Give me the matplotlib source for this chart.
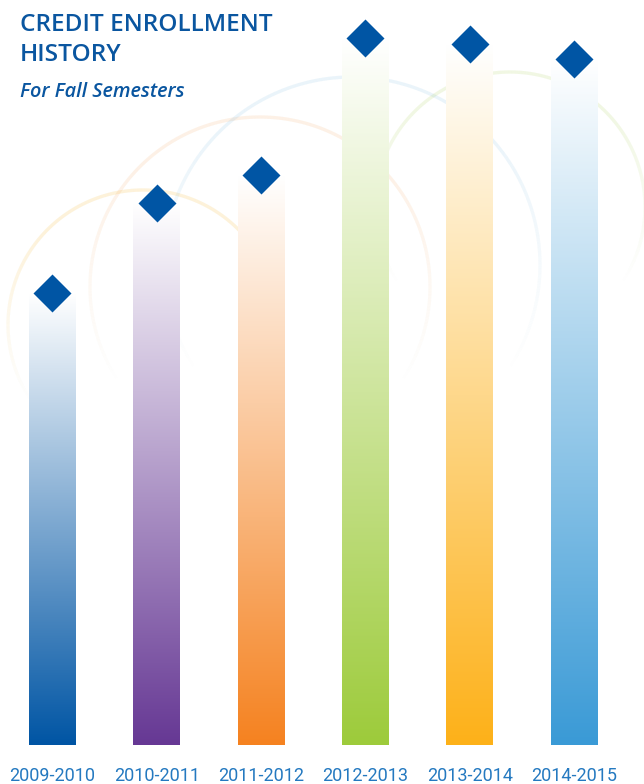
import numpy as np
import matplotlib
matplotlib.use("Agg")
import matplotlib.pyplot as plt
from matplotlib.colors import LinearSegmentedColormap, to_rgb, to_rgba
from matplotlib.collections import LineCollection

# ---- data (relative enrollment) ----
years = ["2009-2010", "2010-2011", "2011-2012", "2012-2013", "2013-2014", "2014-2015"]
values = [452, 542, 570, 707, 701, 686]
bar_colors = ["#0055A4", "#663894", "#F58220", "#9DCB3B", "#FDB119", "#3A9AD6"]

title_color = "#0A56A0"
label_color = "#2479C0"
diamond_color = "#0055A4"

fig = plt.figure(figsize=(6.44, 7.84), dpi=100)

# background decorative circles (pixel space), fading toward the bottom
bg = fig.add_axes([0, 0, 1, 1])
bg.set_xlim(0, 644)
bg.set_ylim(784, 0)
bg.axis("off")
bg.set_zorder(0)
circles = [((143, 325), 135, "#FDB119", 0.16),
           ((260, 287), 170, "#F58220", 0.11),
           ((352, 265), 188, "#3A9AD6", 0.10),
           ((510, 207), 135, "#9DCB3B", 0.14)]
t = np.linspace(0, 2 * np.pi, 721)
for (cx, cy), r, col, a in circles:
    px = cx + r * np.cos(t)
    py = cy - r * np.sin(t)
    pts = np.column_stack([px, py]).reshape(-1, 1, 2)
    segs = np.concatenate([pts[:-1], pts[1:]], axis=1)
    s = np.sin((t[:-1] + t[1:]) / 2)
    f = np.clip(0.45 + 0.8 * s, 0, 1)
    base = np.array(to_rgba(col))
    cols = np.tile(base, (len(segs), 1))
    cols[:, 3] = a * f
    bg.add_collection(LineCollection(segs, colors=cols, linewidths=2.4))

ax = fig.add_axes([0, 0, 1, 1])
ax.patch.set_alpha(0)
ax.axis("off")
ax.set_zorder(1)

x = np.arange(len(years))
width = 0.45
grad = np.linspace(0, 1, 256).reshape(-1, 1)
for xi, v, c in zip(x, values, bar_colors):
    cmap = LinearSegmentedColormap.from_list("g", [to_rgb(c), (1, 1, 1)])
    ax.imshow(grad, cmap=cmap, extent=[xi - width / 2, xi + width / 2, 0, v],
              aspect="auto", origin="lower", zorder=1, interpolation="bilinear")

ax.plot(x, values, ls="none", marker="D", ms=19, mfc=diamond_color, mec="none", zorder=3)

for xi, yr in zip(x, years):
    ax.text(xi, -31, yr, ha="center", va="center", fontsize=13, color=label_color,
            family="Roboto", fontweight="normal")

ax.set_xlim(-0.503, 5.671)
ax.set_ylim(-39, 745)

fig.text(20 / 644, 1 - 31 / 784, "CREDIT ENROLLMENT", fontsize=17.6, color=title_color,
         family="Open Sans", fontweight="semibold", va="baseline", ha="left")
fig.text(20 / 644, 1 - 61 / 784, "HISTORY", fontsize=17.6, color=title_color,
         family="Open Sans", fontweight="semibold", va="baseline", ha="left")
fig.text(20 / 644, 1 - 97 / 784, "For Fall Semesters", fontsize=14.3, color=title_color,
         family="Open Sans", fontweight="semibold", style="italic", va="baseline", ha="left")

fig.savefig("out.png", dpi=100)
